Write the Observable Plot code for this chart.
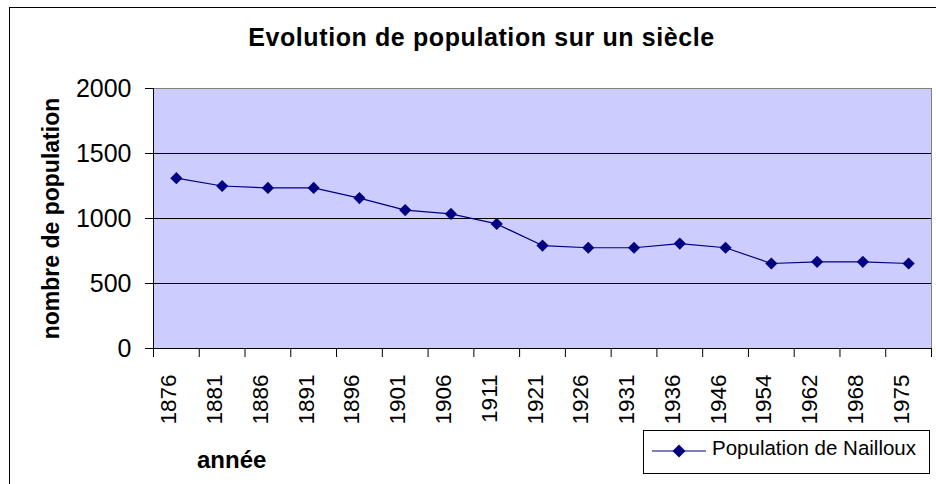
<!DOCTYPE html>
<html>
<head>
<meta charset="utf-8">
<script src="https://cdn.jsdelivr.net/npm/d3@7"></script>
<script src="https://cdn.jsdelivr.net/npm/@observablehq/plot@0.6"></script>
<style>
  html, body { margin: 0; padding: 0; background: #fff; }
  body { width: 936px; height: 484px; overflow: hidden; position: relative;
         font-family: Arial, "Liberation Sans", sans-serif; }
  #frame { position: absolute; left: 9px; top: 7px; width: 960px; height: 500px;
           border: 1px solid #000; box-sizing: border-box; pointer-events: none; }
  #title { position: absolute; left: 0; top: 25px; width: 963px; text-align: center;
           font-weight: bold; font-size: 25px; letter-spacing: 0.6px; line-height: 1; color: #000; }
  #chart { position: absolute; left: 0; top: 0; }
  #xlabel { position: absolute; left: 197px; top: 448px; font-weight: bold; font-size: 24px; line-height: 1; }
  #legend { position: absolute; left: 643px; top: 430px; width: 287px; height: 44px;
            border: 1px solid #000; box-sizing: border-box; background: #fff; }
  #legend svg { position: absolute; left: 0; top: 0; }
  #legend span { position: absolute; left: 68px; top: 6px; font-size: 20.5px; line-height: 1.1; white-space: nowrap; }
</style>
</head>
<body>
<div id="chart"></div>
<div id="frame"></div>
<div id="title">Evolution de population sur un siècle</div>
<div id="xlabel">année</div>
<div id="legend">
  <svg width="70" height="42"><line x1="8" x2="62" y1="20" y2="20" stroke="#000080" stroke-width="1.2"/><path d="M35,13.5L41.5,20L35,26.5L28.5,20Z" fill="#000080"/></svg>
  <span>Population de Nailloux</span>
</div>
<script>
const years = ["1876","1881","1886","1891","1896","1901","1906","1911","1921","1926","1931","1936","1946","1954","1962","1968","1975"];
const population = [1310,1250,1235,1235,1157,1065,1035,958,792,775,775,807,775,654,667,667,654];
const yTicks = [0, 500, 1000, 1500, 2000];
const gridValues = [500, 1000, 1500];
const seriesName = "Population de Nailloux";
const yLabel = "nombre de population";

const data = years.map((year, i) => ({i, year, pop: population[i]}));
const n = years.length;

const chart = Plot.plot({
  width: 936,
  height: 484,
  marginLeft: 153,
  marginRight: 5,
  marginTop: 88,
  marginBottom: 136,
  style: {fontFamily: 'Arial, "Liberation Sans", sans-serif', color: "#000", background: "transparent"},
  x: {domain: [0, n], axis: null},
  y: {domain: [0, 2000], axis: null},
  marks: [
    Plot.frame({fill: "#CCCCFF"}),
    Plot.ruleY(gridValues, {stroke: "#000", strokeWidth: 1}),
    Plot.frame({stroke: "#808080", strokeWidth: 1}),
    Plot.axisY({ticks: yTicks, tickSize: 8, tickPadding: 14, fontSize: 25, tickFormat: d => String(d), label: null, stroke: "#000"}),
    Plot.axisX({ticks: d3.range(n + 1), tickSize: 9, tickFormat: () => "", label: null, stroke: "#000"}),
    Plot.ruleX([0], {stroke: "#000"}),
    Plot.ruleY([0], {stroke: "#000"}),
    Plot.text(data, {x: d => d.i + 0.5, text: "year", frameAnchor: "bottom", rotate: -90, textAnchor: "end", dy: 26, fontSize: 22.5, fill: "#000"}),
    Plot.text([yLabel], {frameAnchor: "left", textAnchor: "middle", dx: -102, rotate: -90, fontWeight: "bold", fontSize: 23, fill: "#000"}),
    Plot.line(data, {x: d => d.i + 0.5, y: "pop", stroke: "#000080", strokeWidth: 1.2}),
    Plot.dot(data, {x: d => d.i + 0.5, y: "pop", symbol: "diamond2", r: 5.5, fill: "#000080", title: d => `${seriesName} ${d.year}: ${d.pop}`})
  ]
});
document.getElementById("chart").appendChild(chart);
</script>
</body>
</html>
